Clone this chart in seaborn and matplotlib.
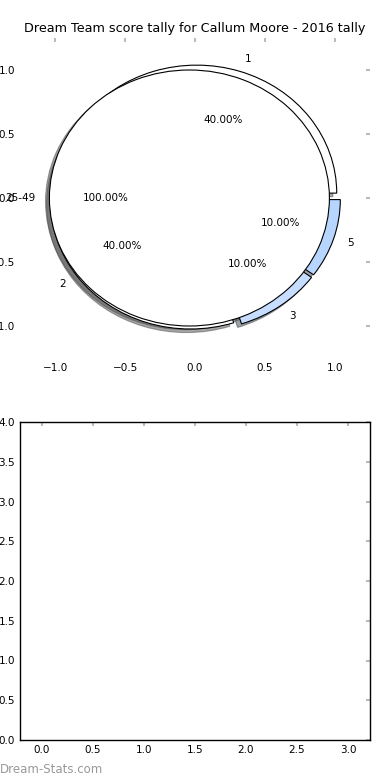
import seaborn as sns
import matplotlib
matplotlib.use("Agg")
import matplotlib.pyplot as plt

# Data
score_labels = ["1", "5", "3", "2"]
score_shares = [40, 10, 10, 40]
score_colours = ["#ffffff", "#b7d6ff", "#c6ddff", "#ffffff"]
age_labels = ["25-49"]
age_shares = [100]
title = "Dream Team score tally for Callum Moore - 2016 tally"

sns.set_style("white", {
    "xtick.direction": "in",
    "ytick.direction": "in",
    "xtick.color": "#bbbbbb",
    "ytick.color": "#bbbbbb",
    "axes.edgecolor": "black",
    "text.color": "black",
    "axes.labelcolor": "black",
})
plt.rcParams["font.family"] = ["DejaVu Sans"]
plt.rcParams["xtick.top"] = True
plt.rcParams["ytick.right"] = True
plt.rcParams["xtick.labelcolor"] = "black"
plt.rcParams["ytick.labelcolor"] = "black"
plt.rcParams["xtick.major.size"] = 3
plt.rcParams["ytick.major.size"] = 3
plt.rcParams["xtick.major.width"] = 1.5
plt.rcParams["ytick.major.width"] = 1.5
plt.rcParams["xtick.labelsize"] = 7.5
plt.rcParams["ytick.labelsize"] = 7.5
plt.rcParams["patch.linewidth"] = 0.8

fig = plt.figure(figsize=(3.9, 7.8), dpi=100)
ax_pie = fig.add_axes([20 / 390, 422 / 780, 350 / 390, 320 / 780])
ax_bar = fig.add_axes([20 / 390, 40 / 780, 350 / 390, 318 / 780])

# outer ring: score tally
ax_pie.pie(score_shares, labels=score_labels, colors=score_colours,
           explode=[0.04] * len(score_shares), startangle=144,
           counterclock=False, shadow=True, autopct="%.2f%%",
           textprops={"fontsize": 7.5, "color": "black"},
           wedgeprops={"edgecolor": "black", "linewidth": 0.8})
# inner pie: age band
ax_pie.pie(age_shares, labels=age_labels, colors=["#ffffff"],
           explode=[0.04], startangle=0, shadow=True, autopct="%.2f%%",
           textprops={"fontsize": 7.5, "color": "black"},
           wedgeprops={"edgecolor": "black", "linewidth": 0.8})
ax_pie.set_aspect("auto")
ax_pie.set_frame_on(False)
ax_pie.set_xlim(-1.25, 1.25)
ax_pie.set_ylim(-1.25, 1.25)
ax_pie.set_xticks([-1.0, -0.5, 0.0, 0.5, 1.0])
ax_pie.set_yticks([-1.0, -0.5, 0.0, 0.5, 1.0])
ax_pie.set_title(title, fontsize=9.2, pad=4, color="black")

# empty lower panel
ax_bar.set_xlim(-0.216, 3.216)
ax_bar.set_ylim(0, 4)
ax_bar.set_xticks([0.0, 0.5, 1.0, 1.5, 2.0, 2.5, 3.0])
ax_bar.set_yticks([0.0, 0.5, 1.0, 1.5, 2.0, 2.5, 3.0, 3.5, 4.0])
ax_bar.xaxis.set_major_formatter(matplotlib.ticker.FormatStrFormatter("%.1f"))
ax_bar.yaxis.set_major_formatter(matplotlib.ticker.FormatStrFormatter("%.1f"))
for s in ax_bar.spines.values():
    s.set_linewidth(1.0)

fig.text(0.0, 0.005, "Dream-Stats.com", fontsize=8.5, color="#999999",
         ha="left", va="bottom")

fig.savefig("out.png", dpi=100)
